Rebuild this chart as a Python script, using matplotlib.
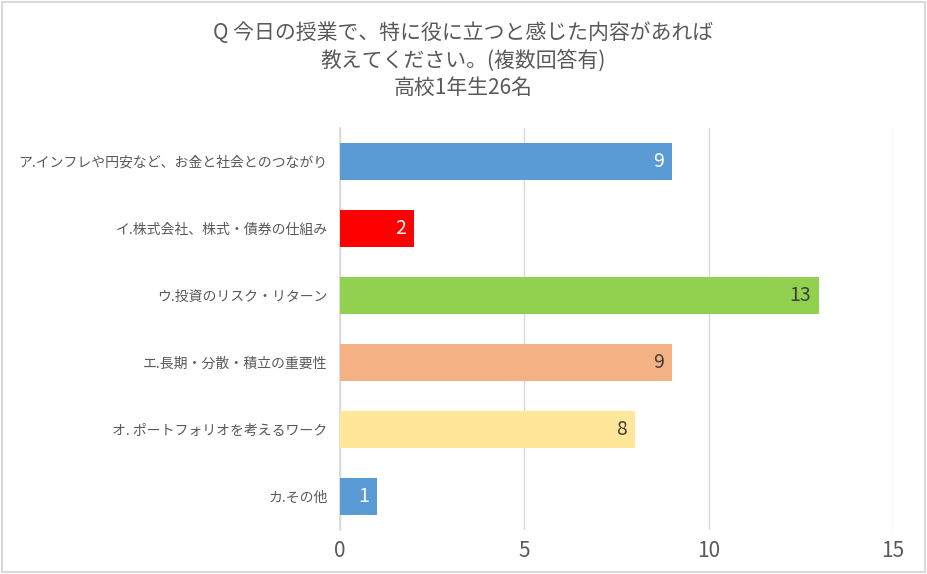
import matplotlib
matplotlib.use("Agg")
import matplotlib.pyplot as plt
from matplotlib.patches import Rectangle

plt.rcParams['font.family'] = ['Noto Sans CJK JP', 'DejaVu Sans']

categories = [
    "ア.インフレや円安など、お金と社会とのつながり",
    "イ.株式会社、株式・債券の仕組み",
    "ウ.投資のリスク・リターン",
    "エ.長期・分散・積立の重要性",
    "オ. ポートフォリオを考えるワーク",
    "カ.その他",
]
counts = [9, 2, 13, 9, 8, 1]
bar_colors = ['#5B9BD5', '#FF0000', '#92D050', '#F4B183', '#FFE699', '#5B9BD5']
label_colors = ['white', 'white', '#404040', '#404040', '#404040', 'white']
title = "Q 今日の授業で、特に役に立つと感じた内容があれば\n教えてください。(複数回答有)\n高校1年生26名"

fig = plt.figure(figsize=(9.27, 5.74), dpi=100)
ax = fig.add_axes([0.3668, 0.0767, 0.5965, 0.7003])

ypos = list(range(len(categories)))
ax.barh(ypos, counts, height=0.54, color=bar_colors, zorder=3)
for y, v, c in zip(ypos, counts, label_colors):
    ax.text(v - 0.22, y, str(v), ha='right', va='center',
            fontsize=14, color=c, zorder=4)

ax.set_xlim(0, 15)
ax.set_ylim(len(categories) - 0.5, -0.5)
ax.set_xticks([0, 5, 10, 15])
ax.set_yticks(ypos)
ax.set_yticklabels(categories, fontsize=10, color='#595959')
ax.tick_params(axis='x', labelsize=15, labelcolor='#595959', length=0, pad=7)
ax.tick_params(axis='y', length=0, pad=9)
ax.grid(axis='x', color='#D9D9D9', linewidth=1, zorder=0)
for s in ['top', 'right', 'bottom']:
    ax.spines[s].set_visible(False)
ax.spines['left'].set_color('#D9D9D9')
ax.spines['left'].set_linewidth(1.2)

fig.text(0.5, 0.962, title, ha='center', va='top', fontsize=15,
         color='#595959', linespacing=1.3)

fig.patches.append(Rectangle((0.002, 0.003), 0.996, 0.994, transform=fig.transFigure,
                             fill=False, edgecolor='#D9D9D9', linewidth=1.5))

fig.savefig("out.png", dpi=100)
